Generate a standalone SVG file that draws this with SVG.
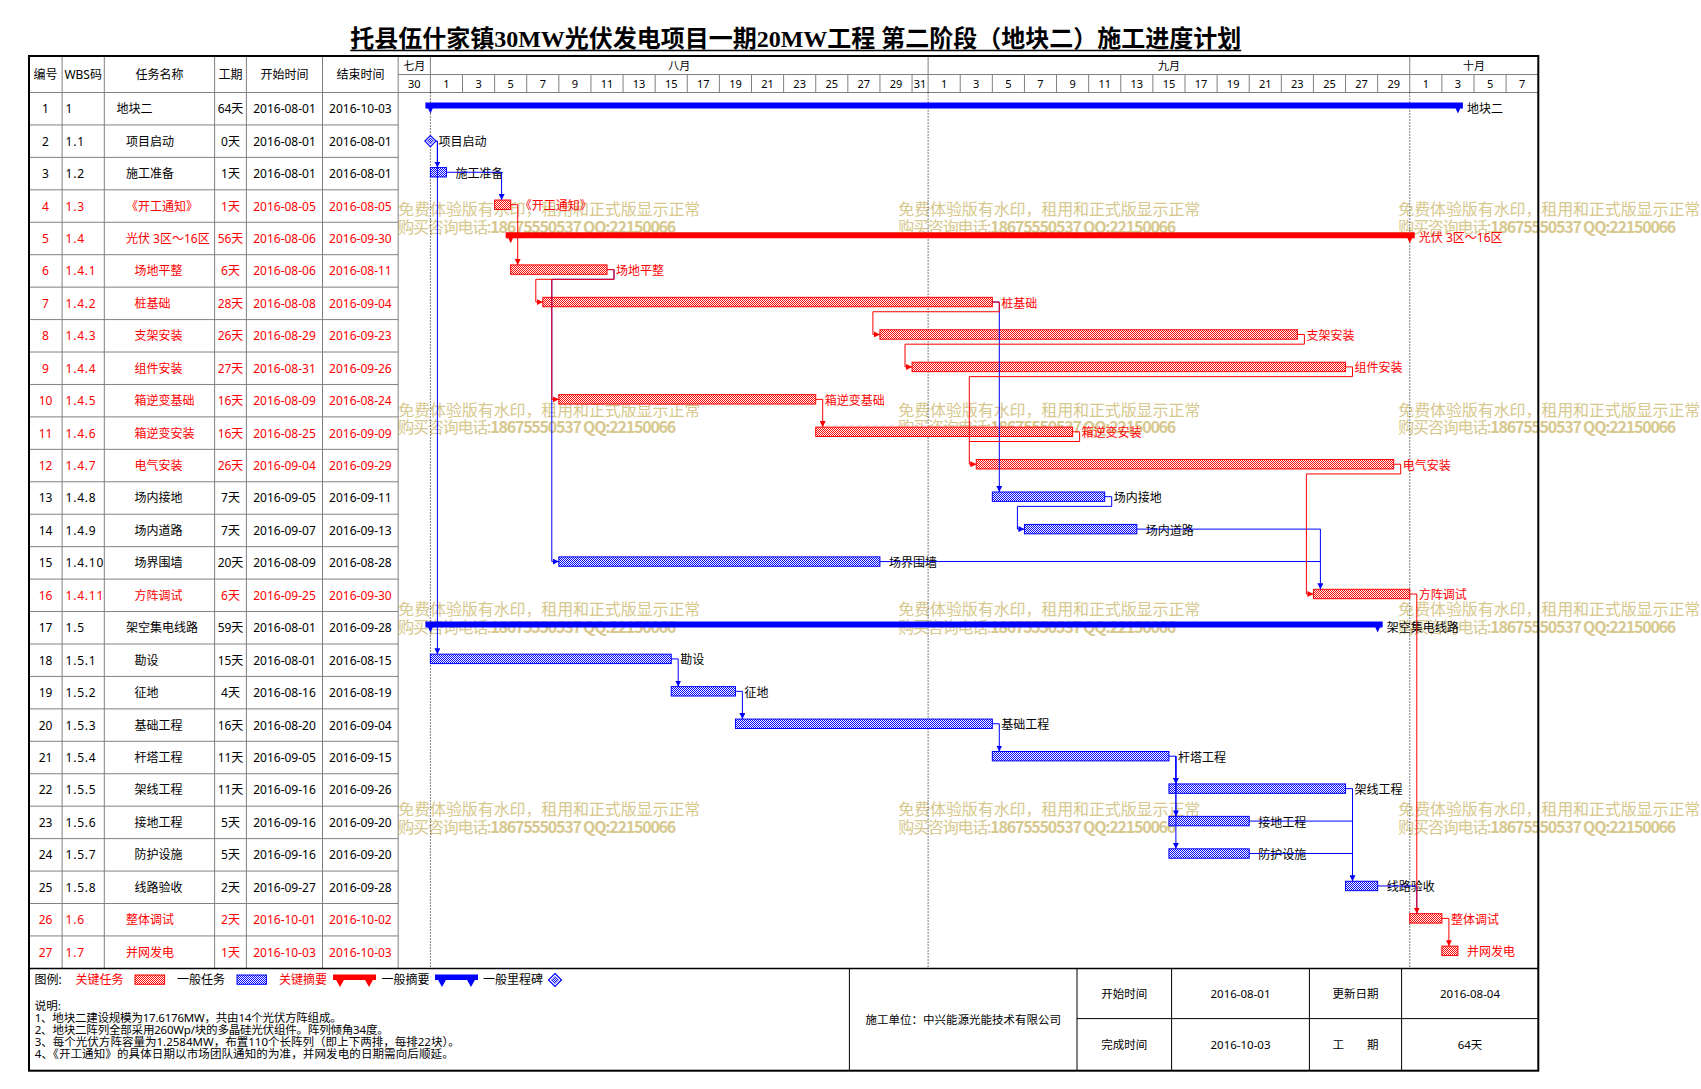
<svg xmlns="http://www.w3.org/2000/svg" width="1701" height="1089" viewBox="0 0 1701 1089">
<defs>
<style>
text{font-family:"Noto Sans","Noto Sans CJK SC",sans-serif;font-size:12px;dominant-baseline:central;fill:#000}
.m{text-anchor:middle}
.red text{fill:#f00}
text.rd{fill:#f00}
.d{font-size:11px}
.w{letter-spacing:0.8px}
.wm{fill:#D7C88E;font-size:16px;font-family:"Noto Sans CJK SC",sans-serif}
.gl{stroke:#808080;stroke-width:1;fill:none}
.bk{stroke:#000;stroke-width:1;fill:none}
.dot{stroke:#000;stroke-width:1;stroke-dasharray:1 2;fill:none}
.cb{stroke:#00f;stroke-width:1;fill:none}
.cr{stroke:#f00;stroke-width:1;fill:none}
.ab{marker-end:url(#ab)}
.ar{marker-end:url(#ar)}
.tr{fill:url(#hr);stroke:#f00;stroke-width:1}
.tb{fill:url(#hb);stroke:#00f;stroke-width:1}
.sr{fill:#f00}
.sb{fill:#00f}
.n{font-size:11.5px}
</style>
<pattern id="hr" width="2" height="2" patternUnits="userSpaceOnUse"><rect width="2" height="2" fill="#fff"/><rect width="1" height="1" fill="#f00"/><rect x="1" y="1" width="1" height="1" fill="#f00"/></pattern>
<pattern id="hb" width="2" height="2" patternUnits="userSpaceOnUse"><rect width="2" height="2" fill="#fff"/><rect width="1" height="1" fill="#00f"/><rect x="1" y="1" width="1" height="1" fill="#00f"/></pattern>
<marker id="ab" viewBox="0 0 6 6" refX="6" refY="3" markerWidth="6" markerHeight="6" markerUnits="userSpaceOnUse" orient="auto"><path d="M0,0L6,3L0,6Z" fill="#00f"/></marker>
<marker id="ar" viewBox="0 0 6 6" refX="6" refY="3" markerWidth="6" markerHeight="6" markerUnits="userSpaceOnUse" orient="auto"><path d="M0,0L6,3L0,6Z" fill="#f00"/></marker>
</defs>
<rect width="1701" height="1089" fill="#fff"/>

<g id="watermark" class="wmg">
<text class="wm" x="398.3" y="208.3" textLength="302">免费体验版有水印，租用和正式版显示正常</text>
<text class="wm" x="398.3" y="225.8" textLength="278">购买咨询电话:<tspan font-weight="700">18675550537 QQ:22150066</tspan></text>
<text class="wm" x="898.3" y="208.3" textLength="302">免费体验版有水印，租用和正式版显示正常</text>
<text class="wm" x="898.3" y="225.8" textLength="278">购买咨询电话:<tspan font-weight="700">18675550537 QQ:22150066</tspan></text>
<text class="wm" x="1398.3" y="208.3" textLength="302">免费体验版有水印，租用和正式版显示正常</text>
<text class="wm" x="1398.3" y="225.8" textLength="278">购买咨询电话:<tspan font-weight="700">18675550537 QQ:22150066</tspan></text>
<text class="wm" x="398.3" y="408.5" textLength="302">免费体验版有水印，租用和正式版显示正常</text>
<text class="wm" x="398.3" y="426" textLength="278">购买咨询电话:<tspan font-weight="700">18675550537 QQ:22150066</tspan></text>
<text class="wm" x="898.3" y="408.5" textLength="302">免费体验版有水印，租用和正式版显示正常</text>
<text class="wm" x="898.3" y="426" textLength="278">购买咨询电话:<tspan font-weight="700">18675550537 QQ:22150066</tspan></text>
<text class="wm" x="1398.3" y="408.5" textLength="302">免费体验版有水印，租用和正式版显示正常</text>
<text class="wm" x="1398.3" y="426" textLength="278">购买咨询电话:<tspan font-weight="700">18675550537 QQ:22150066</tspan></text>
<text class="wm" x="398.3" y="608.3" textLength="302">免费体验版有水印，租用和正式版显示正常</text>
<text class="wm" x="398.3" y="625.8" textLength="278">购买咨询电话:<tspan font-weight="700">18675550537 QQ:22150066</tspan></text>
<text class="wm" x="898.3" y="608.3" textLength="302">免费体验版有水印，租用和正式版显示正常</text>
<text class="wm" x="898.3" y="625.8" textLength="278">购买咨询电话:<tspan font-weight="700">18675550537 QQ:22150066</tspan></text>
<text class="wm" x="1398.3" y="608.3" textLength="302">免费体验版有水印，租用和正式版显示正常</text>
<text class="wm" x="1398.3" y="625.8" textLength="278">购买咨询电话:<tspan font-weight="700">18675550537 QQ:22150066</tspan></text>
<text class="wm" x="398.3" y="808.3" textLength="302">免费体验版有水印，租用和正式版显示正常</text>
<text class="wm" x="398.3" y="825.8" textLength="278">购买咨询电话:<tspan font-weight="700">18675550537 QQ:22150066</tspan></text>
<text class="wm" x="898.3" y="808.3" textLength="302">免费体验版有水印，租用和正式版显示正常</text>
<text class="wm" x="898.3" y="825.8" textLength="278">购买咨询电话:<tspan font-weight="700">18675550537 QQ:22150066</tspan></text>
<text class="wm" x="1398.3" y="808.3" textLength="302">免费体验版有水印，租用和正式版显示正常</text>
<text class="wm" x="1398.3" y="825.8" textLength="278">购买咨询电话:<tspan font-weight="700">18675550537 QQ:22150066</tspan></text>
</g>

<g id="title">
<text x="795.7" y="38.5" class="m" style="font-family:'Liberation Serif','Noto Sans CJK SC',serif;font-size:24px;font-weight:700" textLength="891">托县伍什家镇30MW光伏发电项目一期20MW工程 第二阶段（地块二）施工进度计划</text>
<line x1="350.2" y1="50.5" x2="1241.2" y2="50.5" stroke="#000" stroke-width="1.5"/>
</g>

<g id="grid">
<path class="gl" d="M62.1,56V968.4M104.3,56V968.4M214.6,56V968.4M246.4,56V968.4M322.5,56V968.4M398.2,56V968.4"/>
<path class="gl" d="M29,92.5H1538.3M398.2,74.5H1538.3M430.4,56V92.5M928.11,56V92.5M1409.76,56V92.5"/>
<path class="gl" d="M462.51,74.5V92.5M494.62,74.5V92.5M526.73,74.5V92.5M558.84,74.5V92.5M590.95,74.5V92.5M623.06,74.5V92.5M655.17,74.5V92.5M687.28,74.5V92.5M719.39,74.5V92.5M751.5,74.5V92.5M783.61,74.5V92.5M815.72,74.5V92.5M847.83,74.5V92.5M879.94,74.5V92.5M912.05,74.5V92.5M960.22,74.5V92.5M992.33,74.5V92.5M1024.44,74.5V92.5M1056.55,74.5V92.5M1088.66,74.5V92.5M1120.77,74.5V92.5M1152.88,74.5V92.5M1184.99,74.5V92.5M1217.1,74.5V92.5M1249.21,74.5V92.5M1281.32,74.5V92.5M1313.43,74.5V92.5M1345.54,74.5V92.5M1377.65,74.5V92.5M1441.87,74.5V92.5M1473.98,74.5V92.5M1506.09,74.5V92.5"/>
<path class="gl" d="M29,124.94H398.2M29,157.38H398.2M29,189.82H398.2M29,222.26H398.2M29,254.7H398.2M29,287.14H398.2M29,319.58H398.2M29,352.02H398.2M29,384.46H398.2M29,416.9H398.2M29,449.34H398.2M29,481.78H398.2M29,514.22H398.2M29,546.66H398.2M29,579.1H398.2M29,611.54H398.2M29,643.98H398.2M29,676.42H398.2M29,708.86H398.2M29,741.3H398.2M29,773.74H398.2M29,806.18H398.2M29,838.62H398.2M29,871.06H398.2M29,903.5H398.2M29,935.94H398.2"/>
<path class="dot" d="M430.4,92.5V968.4M928.11,92.5V968.4M1409.76,92.5V968.4"/>
</g>

<g id="header">
<text class="m" x="45.5" y="74.3">编号</text>
<text class="m" x="83.2" y="74.3">WBS码</text>
<text class="m" x="159.5" y="74.3">任务名称</text>
<text class="m" x="230.5" y="74.3">工期</text>
<text class="m" x="284.5" y="74.3">开始时间</text>
<text class="m" x="360.4" y="74.3">结束时间</text>
<text class="m d" x="414.35" y="65.3">七月</text>
<text class="m d" x="679.2" y="65.3">八月</text>
<text class="m d" x="1169" y="65.3">九月</text>
<text class="m d" x="1474" y="65.3">十月</text>
<g class="m d">
<text class="m d" x="414.35" y="83.5">30</text>
<text class="m d" x="446.46" y="83.5">1</text><text class="m d" x="478.57" y="83.5">3</text><text class="m d" x="510.68" y="83.5">5</text><text class="m d" x="542.79" y="83.5">7</text><text class="m d" x="574.9" y="83.5">9</text><text class="m d" x="607.01" y="83.5">11</text><text class="m d" x="639.12" y="83.5">13</text><text class="m d" x="671.23" y="83.5">15</text><text class="m d" x="703.34" y="83.5">17</text><text class="m d" x="735.45" y="83.5">19</text><text class="m d" x="767.56" y="83.5">21</text><text class="m d" x="799.67" y="83.5">23</text><text class="m d" x="831.78" y="83.5">25</text><text class="m d" x="863.89" y="83.5">27</text><text class="m d" x="896" y="83.5">29</text><text class="m d" x="920.08" y="83.5">31</text>
<text class="m d" x="944.16" y="83.5">1</text><text class="m d" x="976.27" y="83.5">3</text><text class="m d" x="1008.38" y="83.5">5</text><text class="m d" x="1040.49" y="83.5">7</text><text class="m d" x="1072.6" y="83.5">9</text><text class="m d" x="1104.71" y="83.5">11</text><text class="m d" x="1136.82" y="83.5">13</text><text class="m d" x="1168.93" y="83.5">15</text><text class="m d" x="1201.04" y="83.5">17</text><text class="m d" x="1233.15" y="83.5">19</text><text class="m d" x="1265.26" y="83.5">21</text><text class="m d" x="1297.37" y="83.5">23</text><text class="m d" x="1329.48" y="83.5">25</text><text class="m d" x="1361.59" y="83.5">27</text><text class="m d" x="1393.7" y="83.5">29</text>
<text class="m d" x="1425.81" y="83.5">1</text><text class="m d" x="1457.92" y="83.5">3</text><text class="m d" x="1490.03" y="83.5">5</text><text class="m d" x="1522.14" y="83.5">7</text>
</g>
</g>

<g id="t1"><text class="m" x="45.5" y="108.7">1</text><text class="w" x="65.5" y="108.7">1</text><text x="116.5" y="108.7">地块二</text><text class="m" x="230.5" y="108.7">64天</text><text class="m" x="284.5" y="108.7">2016-08-01</text><text class="m" x="360.4" y="108.7">2016-10-03</text>
<path class="sb" d="M425.4,102.5H1462.92V108.5H425.4ZM425.4,102.5H435.4L430.4,113.5ZM1452.92,102.5H1462.92L1457.92,113.5Z"/><text x="1466.9" y="108.2">地块二</text></g>

<g id="t2"><text class="m" x="45.5" y="141.14">2</text><text class="w" x="65.5" y="141.14">1.1</text><text x="126" y="141.14">项目启动</text><text class="m" x="230.5" y="141.14">0天</text><text class="m" x="284.5" y="141.14">2016-08-01</text><text class="m" x="360.4" y="141.14">2016-08-01</text>
<path d="M430.4,135.6L435.9,141.1L430.4,146.6L424.9,141.1Z" fill="#fff" stroke="#00f" stroke-width="1.2"/><path d="M430.4,138.1L433.4,141.1L430.4,144.1L427.4,141.1Z" fill="url(#hb)" stroke="#00f" stroke-width="0.6"/><text x="438.5" y="141.14">项目启动</text></g>

<g id="t3"><text class="m" x="45.5" y="173.58">3</text><text class="w" x="65.5" y="173.58">1.2</text><text x="126" y="173.58">施工准备</text><text class="m" x="230.5" y="173.58">1天</text><text class="m" x="284.5" y="173.58">2016-08-01</text><text class="m" x="360.4" y="173.58">2016-08-01</text>
<rect class="tb" x="430.4" y="167.58" width="16.06" height="9.4"/><text x="455.5" y="173.1">施工准备</text></g>

<g id="t4" class="red"><text class="m" x="45.5" y="206.02">4</text><text class="w" x="65.5" y="206.02">1.3</text><text x="126" y="206.02">《开工通知》</text><text class="m" x="230.5" y="206.02">1天</text><text class="m" x="284.5" y="206.02">2016-08-05</text><text class="m" x="360.4" y="206.02">2016-08-05</text>
<rect class="tr" x="494.62" y="200.02" width="16.06" height="9.4"/><text x="519.7" y="205.5">《开工通知》</text></g>

<g id="t5" class="red"><text class="m" x="45.5" y="238.46">5</text><text class="w" x="65.5" y="238.46">1.4</text><text x="126" y="238.46">光伏 3区～16区</text><text class="m" x="230.5" y="238.46">56天</text><text class="m" x="284.5" y="238.46">2016-08-06</text><text class="m" x="360.4" y="238.46">2016-09-30</text>
<path class="sr" d="M505.68,232.26H1414.76V238.26H505.68ZM505.68,232.26H515.68L510.68,243.26ZM1404.76,232.26H1414.76L1409.76,243.26Z"/><text x="1418.8" y="237.8">光伏 3区～16区</text></g>

<g id="t6" class="red"><text class="m" x="45.5" y="270.9">6</text><text class="w" x="65.5" y="270.9">1.4.1</text><text x="134.5" y="270.9">场地平整</text><text class="m" x="230.5" y="270.9">6天</text><text class="m" x="284.5" y="270.9">2016-08-06</text><text class="m" x="360.4" y="270.9">2016-08-11</text>
<rect class="tr" x="510.68" y="264.9" width="96.33" height="9.4"/><text x="616" y="270.6">场地平整</text></g>

<g id="t7" class="red"><text class="m" x="45.5" y="303.34">7</text><text class="w" x="65.5" y="303.34">1.4.2</text><text x="134.5" y="303.34">桩基础</text><text class="m" x="230.5" y="303.34">28天</text><text class="m" x="284.5" y="303.34">2016-08-08</text><text class="m" x="360.4" y="303.34">2016-09-04</text>
<rect class="tr" x="542.79" y="297.34" width="449.54" height="9.4"/><text x="1001.3" y="303">桩基础</text></g>

<g id="t8" class="red"><text class="m" x="45.5" y="335.78">8</text><text class="w" x="65.5" y="335.78">1.4.3</text><text x="134.5" y="335.78">支架安装</text><text class="m" x="230.5" y="335.78">26天</text><text class="m" x="284.5" y="335.78">2016-08-29</text><text class="m" x="360.4" y="335.78">2016-09-23</text>
<rect class="tr" x="879.94" y="329.78" width="417.43" height="9.4"/><text x="1306.4" y="335.4">支架安装</text></g>

<g id="t9" class="red"><text class="m" x="45.5" y="368.22">9</text><text class="w" x="65.5" y="368.22">1.4.4</text><text x="134.5" y="368.22">组件安装</text><text class="m" x="230.5" y="368.22">27天</text><text class="m" x="284.5" y="368.22">2016-08-31</text><text class="m" x="360.4" y="368.22">2016-09-26</text>
<rect class="tr" x="912.05" y="362.22" width="433.49" height="9.4"/><text x="1354.5" y="367.9">组件安装</text></g>

<g id="t10" class="red"><text class="m" x="45.5" y="400.66">10</text><text class="w" x="65.5" y="400.66">1.4.5</text><text x="134.5" y="400.66">箱逆变基础</text><text class="m" x="230.5" y="400.66">16天</text><text class="m" x="284.5" y="400.66">2016-08-09</text><text class="m" x="360.4" y="400.66">2016-08-24</text>
<rect class="tr" x="558.84" y="394.66" width="256.88" height="9.4"/><text x="824.7" y="400.3">箱逆变基础</text></g>

<g id="t11" class="red"><text class="m" x="45.5" y="433.1">11</text><text class="w" x="65.5" y="433.1">1.4.6</text><text x="134.5" y="433.1">箱逆变安装</text><text class="m" x="230.5" y="433.1">16天</text><text class="m" x="284.5" y="433.1">2016-08-25</text><text class="m" x="360.4" y="433.1">2016-09-09</text>
<rect class="tr" x="815.72" y="427.1" width="256.88" height="9.4"/><text x="1081.6" y="432.7">箱逆变安装</text></g>

<g id="t12" class="red"><text class="m" x="45.5" y="465.54">12</text><text class="w" x="65.5" y="465.54">1.4.7</text><text x="134.5" y="465.54">电气安装</text><text class="m" x="230.5" y="465.54">26天</text><text class="m" x="284.5" y="465.54">2016-09-04</text><text class="m" x="360.4" y="465.54">2016-09-29</text>
<rect class="tr" x="976.27" y="459.54" width="417.43" height="9.4"/><text x="1402.7" y="465.2">电气安装</text></g>

<g id="t13"><text class="m" x="45.5" y="497.98">13</text><text class="w" x="65.5" y="497.98">1.4.8</text><text x="134.5" y="497.98">场内接地</text><text class="m" x="230.5" y="497.98">7天</text><text class="m" x="284.5" y="497.98">2016-09-05</text><text class="m" x="360.4" y="497.98">2016-09-11</text>
<rect class="tb" x="992.33" y="491.98" width="112.38" height="9.4"/><text x="1113.7" y="497.6">场内接地</text></g>

<g id="t14"><text class="m" x="45.5" y="530.42">14</text><text class="w" x="65.5" y="530.42">1.4.9</text><text x="134.5" y="530.42">场内道路</text><text class="m" x="230.5" y="530.42">7天</text><text class="m" x="284.5" y="530.42">2016-09-07</text><text class="m" x="360.4" y="530.42">2016-09-13</text>
<rect class="tb" x="1024.44" y="524.42" width="112.38" height="9.4"/><text x="1145.8" y="530">场内道路</text></g>

<g id="t15"><text class="m" x="45.5" y="562.86">15</text><text class="w" x="65.5" y="562.86">1.4.10</text><text x="134.5" y="562.86">场界围墙</text><text class="m" x="230.5" y="562.86">20天</text><text class="m" x="284.5" y="562.86">2016-08-09</text><text class="m" x="360.4" y="562.86">2016-08-28</text>
<rect class="tb" x="558.84" y="556.86" width="321.1" height="9.4"/><text x="888.9" y="562.5">场界围墙</text></g>

<g id="t16" class="red"><text class="m" x="45.5" y="595.3">16</text><text class="w" x="65.5" y="595.3">1.4.11</text><text x="134.5" y="595.3">方阵调试</text><text class="m" x="230.5" y="595.3">6天</text><text class="m" x="284.5" y="595.3">2016-09-25</text><text class="m" x="360.4" y="595.3">2016-09-30</text>
<rect class="tr" x="1313.43" y="589.3" width="96.33" height="9.4"/><text x="1418.8" y="594.9">方阵调试</text></g>

<g id="t17"><text class="m" x="45.5" y="627.74">17</text><text class="w" x="65.5" y="627.74">1.5</text><text x="126" y="627.74">架空集电线路</text><text class="m" x="230.5" y="627.74">59天</text><text class="m" x="284.5" y="627.74">2016-08-01</text><text class="m" x="360.4" y="627.74">2016-09-28</text>
<path class="sb" d="M425.4,621.54H1382.65V627.54H425.4ZM425.4,621.54H435.4L430.4,632.54ZM1372.65,621.54H1382.65L1377.65,632.54Z"/><text x="1386.7" y="627.2">架空集电线路</text></g>

<g id="t18"><text class="m" x="45.5" y="660.18">18</text><text class="w" x="65.5" y="660.18">1.5.1</text><text x="134.5" y="660.18">勘设</text><text class="m" x="230.5" y="660.18">15天</text><text class="m" x="284.5" y="660.18">2016-08-01</text><text class="m" x="360.4" y="660.18">2016-08-15</text>
<rect class="tb" x="430.4" y="654.18" width="240.83" height="9.4"/><text x="680.2" y="659.8">勘设</text></g>

<g id="t19"><text class="m" x="45.5" y="692.62">19</text><text class="w" x="65.5" y="692.62">1.5.2</text><text x="134.5" y="692.62">征地</text><text class="m" x="230.5" y="692.62">4天</text><text class="m" x="284.5" y="692.62">2016-08-16</text><text class="m" x="360.4" y="692.62">2016-08-19</text>
<rect class="tb" x="671.23" y="686.62" width="64.22" height="9.4"/><text x="744.5" y="692.2">征地</text></g>

<g id="t20"><text class="m" x="45.5" y="725.06">20</text><text class="w" x="65.5" y="725.06">1.5.3</text><text x="134.5" y="725.06">基础工程</text><text class="m" x="230.5" y="725.06">16天</text><text class="m" x="284.5" y="725.06">2016-08-20</text><text class="m" x="360.4" y="725.06">2016-09-04</text>
<rect class="tb" x="735.45" y="719.06" width="256.88" height="9.4"/><text x="1001.3" y="724.7">基础工程</text></g>

<g id="t21"><text class="m" x="45.5" y="757.5">21</text><text class="w" x="65.5" y="757.5">1.5.4</text><text x="134.5" y="757.5">杆塔工程</text><text class="m" x="230.5" y="757.5">11天</text><text class="m" x="284.5" y="757.5">2016-09-05</text><text class="m" x="360.4" y="757.5">2016-09-15</text>
<rect class="tb" x="992.33" y="751.5" width="176.6" height="9.4"/><text x="1177.9" y="757.1">杆塔工程</text></g>

<g id="t22"><text class="m" x="45.5" y="789.94">22</text><text class="w" x="65.5" y="789.94">1.5.5</text><text x="134.5" y="789.94">架线工程</text><text class="m" x="230.5" y="789.94">11天</text><text class="m" x="284.5" y="789.94">2016-09-16</text><text class="m" x="360.4" y="789.94">2016-09-26</text>
<rect class="tb" x="1168.93" y="783.94" width="176.61" height="9.4"/><text x="1354.5" y="789.5">架线工程</text></g>

<g id="t23"><text class="m" x="45.5" y="822.38">23</text><text class="w" x="65.5" y="822.38">1.5.6</text><text x="134.5" y="822.38">接地工程</text><text class="m" x="230.5" y="822.38">5天</text><text class="m" x="284.5" y="822.38">2016-09-16</text><text class="m" x="360.4" y="822.38">2016-09-20</text>
<rect class="tb" x="1168.93" y="816.38" width="80.28" height="9.4"/><text x="1258.2" y="822">接地工程</text></g>

<g id="t24"><text class="m" x="45.5" y="854.82">24</text><text class="w" x="65.5" y="854.82">1.5.7</text><text x="134.5" y="854.82">防护设施</text><text class="m" x="230.5" y="854.82">5天</text><text class="m" x="284.5" y="854.82">2016-09-16</text><text class="m" x="360.4" y="854.82">2016-09-20</text>
<rect class="tb" x="1168.93" y="848.82" width="80.28" height="9.4"/><text x="1258.2" y="854.4">防护设施</text></g>

<g id="t25"><text class="m" x="45.5" y="887.26">25</text><text class="w" x="65.5" y="887.26">1.5.8</text><text x="134.5" y="887.26">线路验收</text><text class="m" x="230.5" y="887.26">2天</text><text class="m" x="284.5" y="887.26">2016-09-27</text><text class="m" x="360.4" y="887.26">2016-09-28</text>
<rect class="tb" x="1345.54" y="881.26" width="32.11" height="9.4"/><text x="1386.7" y="886.9">线路验收</text></g>

<g id="t26" class="red"><text class="m" x="45.5" y="919.7">26</text><text class="w" x="65.5" y="919.7">1.6</text><text x="126" y="919.7">整体调试</text><text class="m" x="230.5" y="919.7">2天</text><text class="m" x="284.5" y="919.7">2016-10-01</text><text class="m" x="360.4" y="919.7">2016-10-02</text>
<rect class="tr" x="1409.76" y="913.7" width="32.11" height="9.4"/><text x="1450.9" y="919.3">整体调试</text></g>

<g id="t27" class="red"><text class="m" x="45.5" y="952.14">27</text><text class="w" x="65.5" y="952.14">1.7</text><text x="126" y="952.14">并网发电</text><text class="m" x="230.5" y="952.14">1天</text><text class="m" x="284.5" y="952.14">2016-10-03</text><text class="m" x="360.4" y="952.14">2016-10-03</text>
<rect class="tr" x="1441.87" y="946.14" width="16.05" height="9.4"/><text x="1466.9" y="951.7">并网发电</text></g>

<g id="connectors">
<path class="cb ab" d="M435.8,141.1H437.4V167.58"/>
<path class="cb ab" d="M437.4,141.1V654.18"/>
<path class="cb ab" d="M446.46,172.28H501.6V200.02"/>
<path class="cb ab" d="M607.01,269.6H614V279.3H551.8V561.56H558.84"/>
<path class="cb ab" d="M992.33,302.04H999.3V491.98"/>
<path class="cb ab" d="M1104.71,496.68H1111.7V506.38H1017.4V529.12H1024.44"/>
<path class="cb ab" d="M1136.82,529.12H1320.4V589.3"/>
<path class="cb" d="M879.94,561.56H1320.4"/>
<path class="cb ab" d="M671.23,658.88H678.2V686.62"/>
<path class="cb ab" d="M735.45,691.32H742.4V719.06"/>
<path class="cb ab" d="M992.33,723.76H999.3V751.5"/>
<path class="cb ab" d="M1168.93,756.2H1175.9V783.94"/>
<path class="cb ab" d="M1175.9,756.2V816.38"/>
<path class="cb ab" d="M1175.9,756.2V848.82"/>
<path class="cb ab" d="M1345.54,788.64H1352.5V881.26"/>
<path class="cb" d="M1249.21,821.08H1352.5"/>
<path class="cb" d="M1249.21,853.52H1352.5"/>
<path class="cb" d="M1377.65,885.96H1416.8V913.7"/>
<path class="cr ar" d="M510.68,204.72H517.7V264.9"/>
<path class="cr ar" d="M607.01,269.6H614V279.3H535.8V302.04H542.79"/>
<path class="cr ar" d="M551.8,279.3V399.36H558.84"/>
<path class="cr ar" d="M992.33,302.04H999.3V311.74H872.9V334.48H879.94"/>
<path class="cr ar" d="M1297.37,334.48H1304.4V344.18H905V366.92H912.05"/>
<path class="cr ar" d="M1345.54,366.92H1352.5V376.62H969.3V464.24H976.27"/>
<path class="cr ar" d="M815.72,399.36H822.7V427.1"/>
<path class="cr" d="M1072.6,431.8H1079.6V441.5H969.3"/>
<path class="cr ar" d="M1393.7,464.24H1400.7V473.94H1306.4V594H1313.43"/>
<path class="cr ar" d="M1409.76,594H1416.8V913.7"/>
<path class="cr ar" d="M1441.87,918.4H1448.9V946.14"/>
</g>

<g id="legend">
<text x="34.5" y="979.5">图例:</text>
<text class="rd" x="75.4" y="979.5">关键任务</text>
<rect class="tr" x="135" y="975" width="29.6" height="9.3"/>
<text x="177" y="979.5">一般任务</text>
<rect class="tb" x="237" y="975" width="29.4" height="9.3"/>
<text class="rd" x="279" y="979.5">关键摘要</text>
<path class="sr" d="M333,974.5H376V980H333ZM333,974.5H347L340,987ZM362,974.5H376L369,987Z"/>
<text x="381.5" y="979.5">一般摘要</text>
<path class="sb" d="M435,974.5H478V980H435ZM435,974.5H449L442,987ZM464,974.5H478L471,987Z"/>
<text x="483" y="979.5">一般里程碑</text>
<path d="M555,973.5L561.5,980L555,986.5L548.5,980Z" fill="#fff" stroke="#00f" stroke-width="1.2"/>
<path d="M555,976.5L558.5,980L555,983.5L551.5,980Z" fill="url(#hb)" stroke="#00f" stroke-width="0.6"/>
</g>

<g id="notes">
<text class="n" x="34.7" y="1005.6">说明:</text>
<text class="n" x="34.7" y="1017.6" textLength="307">1、地块二建设规模为17.6176MW，共由14个光伏方阵组成。</text>
<text class="n" x="34.7" y="1029.5" textLength="354">2、地块二阵列全部采用260Wp/块的多晶硅光伏组件。阵列倾角34度。</text>
<text class="n" x="34.7" y="1041.4" textLength="425">3、每个光伏方阵容量为1.2584MW，布置110个长阵列（即上下两排，每排22块）。</text>
<text class="n" x="34.7" y="1053.3" textLength="419">4、《开工通知》的具体日期以市场团队通知的为准，并网发电的日期需向后顺延。</text>
</g>

<g id="info">
<path class="bk" d="M849.4,968.4V1070.7M1077,968.4V1070.7M1171.6,968.4V1070.7M1309.4,968.4V1070.7M1401.6,968.4V1070.7M1077,1018.6H1538.3"/>
<text class="m n" x="963.2" y="1019.6">施工单位：中兴能源光能技术有限公司</text>
<text class="m n" x="1124.3" y="993.5">开始时间</text>
<text class="m n" x="1240.5" y="993.5">2016-08-01</text>
<text class="m n" x="1355.5" y="993.5">更新日期</text>
<text class="m n" x="1470" y="993.5">2016-08-04</text>
<text class="m n" x="1124.3" y="1044.6">完成时间</text>
<text class="m n" x="1240.5" y="1044.6">2016-10-03</text>
<text class="m n" x="1355.5" y="1044.6">工　　期</text>
<text class="m n" x="1470" y="1044.6">64天</text>
</g>

<g id="frame">
<line x1="29" y1="968.4" x2="1538.3" y2="968.4" stroke="#000" stroke-width="1.5"/>
<rect x="29" y="56" width="1509.3" height="1014.7" fill="none" stroke="#000" stroke-width="2"/>
</g>
</svg>
